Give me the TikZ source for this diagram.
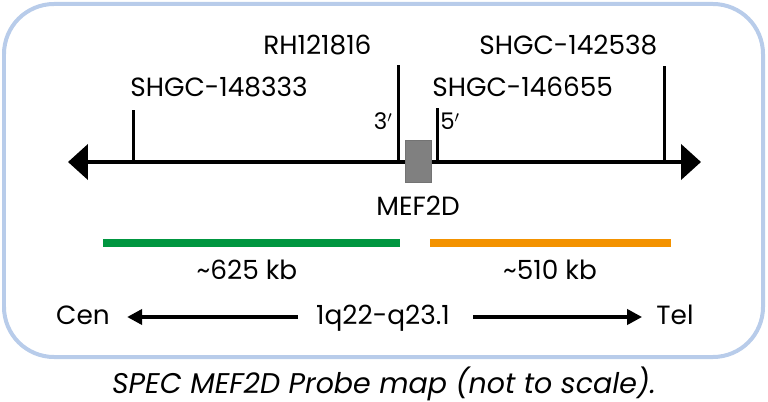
\documentclass[tikz,border=0pt]{standalone}
\usepackage{fontspec}
\setmainfont{Poppins}
\usetikzlibrary{arrows.meta}

\definecolor{frameblue}{RGB}{184,204,234}
\definecolor{probegreen}{RGB}{0,150,64}
\definecolor{probeorange}{RGB}{243,146,0}
\definecolor{genegray}{RGB}{128,128,128}

\tikzset{
  marker/.style={line width=0.06cm},
  maptext/.style={font=\fontsize{15}{17}\selectfont, inner sep=0pt},
  primetext/.style={font=\fontsize{13}{15}\selectfont, inner sep=0pt},
  probe/.style={line width=0.16cm},
  bandarrow/.style={line width=0.09cm,-{Triangle[length=0.3cm,width=0.3cm]}},
}

\begin{document}
\begin{tikzpicture}[x=0.02cm,y=-0.02cm]
      \useasboundingbox (0,0) rectangle (768,402) ;
      \draw[frameblue,line width=0.08cm,rounded corners=1cm] (4,4) rectangle (763,357) ;
      % chromosome line
      \coordinate (cenend) at (68,162) ;
      \coordinate (telend) at (701,162) ;
      \draw[line width=0.09cm,{Triangle[length=0.4cm,width=0.7cm]}-{Triangle[length=0.4cm,width=0.7cm]}] %
      (cenend) -- (telend) ;
      % markers
      \coordinate (m148333) at (133,162) ;
      \coordinate (m121816) at (398,162) ;
      \coordinate (m146655) at (437,162) ;
      \coordinate (m142538) at (664,162) ;
      \draw[marker] (m148333) -- ++(0,-52) ;
      \draw[marker] (m121816) -- ++(0,-97) ;
      \draw[marker] (m146655) -- ++(0,-54) ;
      \draw[marker] (m142538) -- ++(0,-96) ;
      \node[maptext,anchor=base west] (l148333) at (130,97) {SHGC-148333} ;
      \node[maptext,anchor=base west] (l121816) at (263,55) {RH121816} ;
      \node[maptext,anchor=base west] (l146655) at (432,97) {SHGC-146655} ;
      \node[maptext,anchor=base west] (l142538) at (479,55) {SHGC-142538} ;
      \node[primetext,anchor=base east] (three) at (393,130) {3$'$} ;
      \node[primetext,anchor=base west] (five) at (440,130) {5$'$} ;
      % gene
      \node[fill=genegray,draw=genegray!90!black,line width=0.4pt,minimum width=0.52cm,minimum height=0.84cm,inner sep=0pt] %
      (mef2d) at (418,161) {} ;
      \node[maptext,anchor=base] (mef2dlabel) at (418,215) {MEF2D} ;
      % probes
      \coordinate (greenstart) at (103,243) ;
      \coordinate (greenend) at (400,243) ;
      \coordinate (orangestart) at (430,243) ;
      \coordinate (orangeend) at (671,243) ;
      \draw[probe,probegreen] (greenstart) -- (greenend) ;
      \draw[probe,probeorange] (orangestart) -- (orangeend) ;
      \node[maptext,anchor=base] (kb625) at (247,279) {\textasciitilde 625 kb} ;
      \node[maptext,anchor=base] (kb510) at (550,279) {\textasciitilde 510 kb} ;
      % orientation
      \node[maptext,anchor=base] (cen) at (83,324) {Cen} ;
      \node[maptext,anchor=base] (band) at (383,324) {1q22-q23.1} ;
      \node[maptext,anchor=base] (tel) at (675,324) {Tel} ;
      \draw[bandarrow] (298,317) -- ([xshift=0.34cm]cen.east |- 0,317) ;
      \draw[bandarrow] (473,317) -- ([xshift=-0.28cm]tel.west |- 0,317) ;
      \node[maptext,anchor=base,font=\fontsize{16.2}{18}\selectfont\itshape] (caption) at (384,393) %
      {SPEC MEF2D Probe map (not to scale).} ;
    \end{tikzpicture}
\end{document}
